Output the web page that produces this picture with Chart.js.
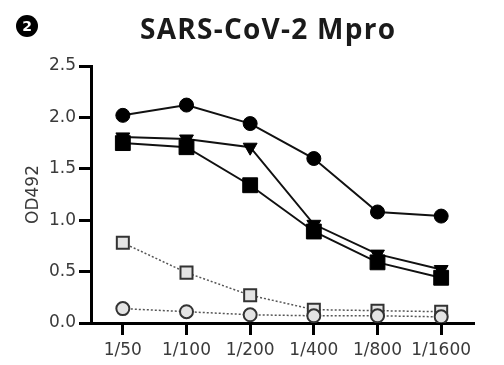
<!DOCTYPE html>
<html><head><meta charset="utf-8">
<script src="https://cdn.jsdelivr.net/npm/chart.js@4"></script>
<style>html,body{margin:0;padding:0;background:#fff}#wrap{width:504px;height:365px}</style>
</head><body><div id="wrap"><canvas id="c" width="504" height="365"></canvas></div>
<script>
const categories = ["1/50","1/100","1/200","1/400","1/800","1/1600"];
const seriesCircle = [2.02,2.12,1.94,1.60,1.08,1.04];
const seriesTriangle = [1.81,1.79,1.71,0.96,0.67,0.52];
const seriesSquare = [1.75,1.71,1.34,0.89,0.59,0.44];
const seriesGreySquare = [0.78,0.49,0.27,0.13,0.12,0.11];
const seriesGreyCircle = [0.14,0.11,0.08,0.07,0.07,0.06];
const yTicks = [0,0.5,1.0,1.5,2.0,2.5];
const titleText = "SARS-CoV-2 Mpro";
const panelLabel = "2";

const decor = {
  id:'decor',
  afterDraw(chart){
    const ctx = chart.ctx;
    ctx.save();
    ctx.fillStyle='#1a1a1a';
    ctx.font='bold 28px "Open Sans", sans-serif';
    ctx.textAlign='left'; ctx.textBaseline='alphabetic';
    const w = ctx.measureText(titleText).width;
    const target = 255;
    const ls = Math.max(0,(target - w)/(titleText.length-1));
    ctx.letterSpacing = ls.toFixed(2)+'px';
    ctx.fillText(titleText, 140, 39);
    ctx.letterSpacing = '0px';
    ctx.beginPath(); ctx.arc(27,26,11,0,Math.PI*2); ctx.fillStyle='#000'; ctx.fill();
    ctx.fillStyle='#fff'; ctx.font='bold 14px "DejaVu Sans", sans-serif';
    ctx.textAlign='center'; ctx.textBaseline='middle';
    ctx.fillText(panelLabel, 27, 27);
    ctx.restore();
  }
};

new Chart(document.getElementById('c'), {
  type:'line',
  data:{
    labels:categories,
    datasets:[
      {data:seriesGreyCircle, borderColor:'#555', borderWidth:1.5, borderDash:[2,2], pointStyle:'circle', pointRadius:6.5, pointBackgroundColor:'#e4e4e4', pointBorderColor:'#333', pointBorderWidth:2},
      {data:seriesGreySquare, borderColor:'#555', borderWidth:1.5, borderDash:[2,2], pointStyle:'rect', pointRadius:8.5, pointBackgroundColor:'#e4e4e4', pointBorderColor:'#333', pointBorderWidth:2},
      {data:seriesSquare, borderColor:'#111', borderWidth:2, pointStyle:'rect', pointRadius:10.5, pointBackgroundColor:'#000', pointBorderColor:'#000', pointBorderWidth:1},
      {data:seriesTriangle, borderColor:'#111', borderWidth:2, pointStyle:'triangle', pointRotation:180, pointRadius:8, pointBackgroundColor:'#000', pointBorderColor:'#000', pointBorderWidth:1},
      {data:seriesCircle, borderColor:'#111', borderWidth:2, pointStyle:'circle', pointRadius:7, pointBackgroundColor:'#000', pointBorderColor:'#000', pointBorderWidth:1}
    ]
  },
  options:{
    responsive:false, animation:false,
    layout:{padding:{top:66,right:31,left:0,bottom:0}},
    plugins:{legend:{display:false},tooltip:{enabled:false},title:{display:false}},
    scales:{
      x:{
        offset:true,
        grid:{drawOnChartArea:false, drawTicks:true, tickLength:12, lineWidth:3, color:'#000', offset:false},
        border:{display:true, width:3, color:'#000'},
        ticks:{color:'#3a3a3a', font:{family:'"DejaVu Sans", sans-serif', size:17}, padding:5, maxRotation:0, autoSkip:false},
        afterFit(s){ s.height = 42; }
      },
      y:{
        min:0, max:2.5,
        afterBuildTicks(s){ s.ticks = yTicks.map(v=>({value:v})); },
        grid:{drawOnChartArea:false, drawTicks:true, tickLength:12, lineWidth:3, color:'#000'},
        border:{display:true, width:3, color:'#000'},
        ticks:{color:'#3a3a3a', font:{family:'"DejaVu Sans", sans-serif', size:17}, padding:3, callback:v=>v.toFixed(1)},
        title:{display:true, text:'OD492', color:'#3a3a3a', font:{family:'"DejaVu Sans", sans-serif', size:17}, padding:{top:23,bottom:0}},
        afterFit(s){ s.width = 91; }
      }
    }
  },
  plugins:[decor]
});
</script></body></html>
